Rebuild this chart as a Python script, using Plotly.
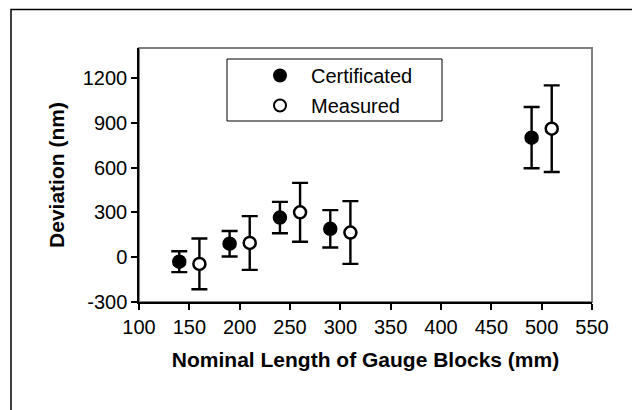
import plotly.graph_objects as go

cert_x = [140, 190, 240, 290, 490]
cert_y = [-30, 90, 265, 190, 800]
cert_err = [70, 85, 105, 125, 205]

meas_x = [160, 210, 260, 310, 510]
meas_y = [-45, 95, 300, 165, 860]
meas_err = [170, 180, 197, 210, 290]

x_ticks = [100, 150, 200, 250, 300, 350, 400, 450, 500, 550]
y_ticks = [-300, 0, 300, 600, 900, 1200]

# page body has an 8px margin; work in reference pixel coords and subtract it
OFF = 8
W, H = 640 - OFF, 410 - OFF
L = 139 - OFF
T = 48 - OFF
R = W - (592 - OFF)
B = H - (302 - OFF)
pw, ph = W - L - R, H - T - B

def px(x):
    return (x - OFF - L) / pw

def py(y):
    return (H - B - (y - OFF)) / ph

FAM = "Liberation Sans, Arial, sans-serif"

fig = go.Figure()
fig.add_trace(go.Scatter(
    x=cert_x, y=cert_y, mode="markers", name="Certificated", legendgroup="a",
    marker=dict(symbol="circle", size=13, color="black", line=dict(color="black", width=1.5)),
    error_y=dict(type="data", array=cert_err, visible=True, color="black", thickness=2.4, width=8),
))
fig.add_trace(go.Scatter(
    x=meas_x, y=meas_y, mode="markers", name="Measured", legendgroup="b",
    marker=dict(symbol="circle", size=12, color="white", line=dict(color="black", width=2.5)),
    error_y=dict(type="data", array=meas_err, visible=True, color="black", thickness=2.4, width=8),
))

fig.update_layout(
    width=W, height=H,
    margin=dict(l=L, r=R, t=T, b=B),
    paper_bgcolor="white", plot_bgcolor="white",
    font=dict(family=FAM, size=20, color="black"),
    showlegend=True,
    legend=dict(
        x=px(249), y=py(56), xanchor="left", yanchor="top",
        borderwidth=0, bgcolor="rgba(0,0,0,0)",
        font=dict(family=FAM, size=20, color="black"),
        itemsizing="constant", tracegroupgap=1, itemwidth=52,
    ),
    xaxis=dict(
        range=[100, 550], tickvals=x_ticks, ticktext=[str(v) for v in x_ticks],
        ticks="outside", ticklen=6, tickwidth=1.5, tickcolor="black",
        showgrid=False, zeroline=False, showline=True, linecolor="black", linewidth=1.5,
        title=dict(text="<b>Nominal Length of Gauge Blocks (mm)</b>", font=dict(size=21), standoff=16),
        tickfont=dict(size=20),
    ),
    yaxis=dict(
        range=[-300, 1400], tickvals=y_ticks, ticktext=[str(v) for v in y_ticks],
        ticks="outside", ticklen=6, tickwidth=1.5, tickcolor="black",
        showgrid=False, zeroline=False, showline=True, linecolor="black", linewidth=1.5,
        title=dict(text="<b>Deviation (nm)</b>", font=dict(size=21), standoff=12),
        tickfont=dict(size=20),
    ),
    shapes=[
        dict(type="rect", xref="paper", yref="paper", x0=0, x1=1, y0=0, y1=1,
             line=dict(color="#808080", width=2), layer="below"),
        dict(type="rect", xref="paper", yref="paper", x0=px(227), x1=px(442), y0=py(121), y1=py(59),
             line=dict(color="black", width=1), fillcolor="white", layer="below"),
        dict(type="rect", xref="paper", yref="paper", x0=px(11), x1=px(639), y0=py(440), y1=py(9.5),
             line=dict(color="black", width=1.5)),
    ],
)

fig.write_html("out.html")
